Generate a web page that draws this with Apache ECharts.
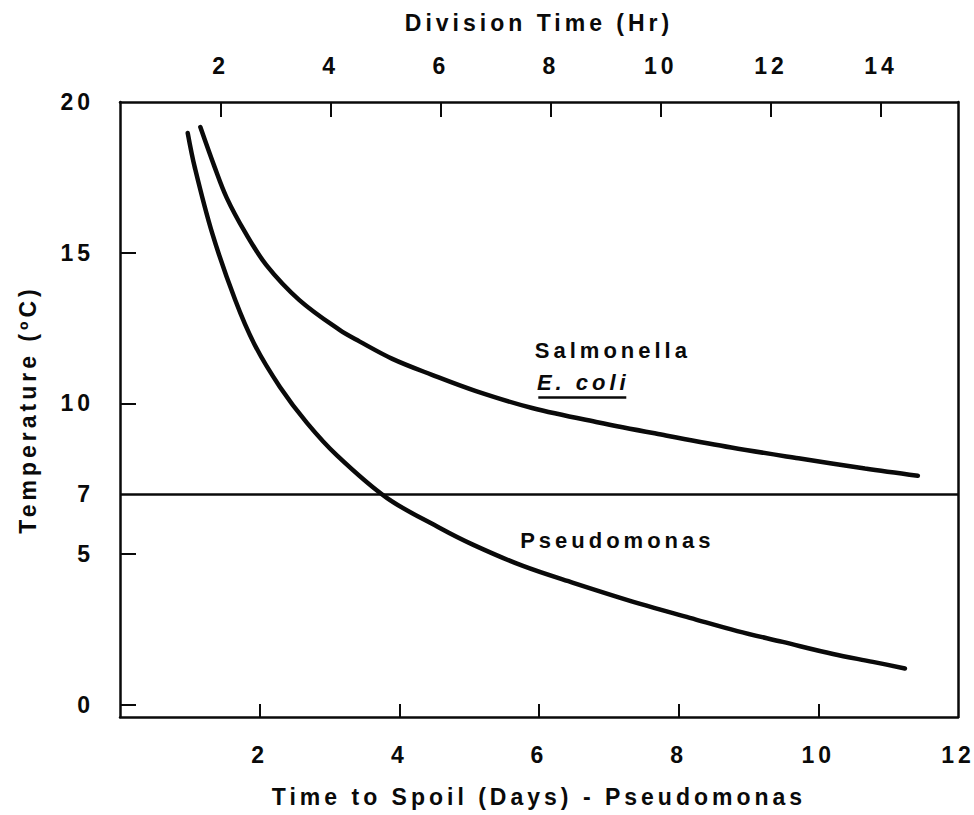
<!DOCTYPE html>
<html>
<head>
<meta charset="utf-8">
<script src="https://cdn.jsdelivr.net/npm/echarts@6/dist/echarts.min.js"></script>
<style>
  html, body { margin: 0; padding: 0; background: #fff; }
  #chart { width: 974px; height: 815px; }
  #chart text { letter-spacing: 4px; }
</style>
</head>
<body>
<div id="chart"></div>
<script>
// ---- data ----
// Pseudomonas: time to spoil (days, bottom axis) vs temperature (°C)
const pseudoDays = [0.97, 1.07, 1.32, 1.65, 1.93, 2.29, 2.68, 3.11, 3.82, 4.58, 5.06, 5.77, 6.49, 7.45, 8.16, 8.84, 9.49, 10.21, 10.78, 11.24];
const pseudoTemp = [18.97, 17.84, 15.65, 13.43, 11.94, 10.55, 9.35, 8.27, 6.87, 5.87, 5.31, 4.61, 4.05, 3.35, 2.89, 2.45, 2.09, 1.69, 1.43, 1.21];
// Salmonella / E. coli: division time (hours, top axis) vs temperature (°C)
const salmHours = [1.63, 1.89, 2.11, 2.44, 2.83, 3.43, 4.16, 4.52, 5.12, 5.84, 6.64, 7.66, 8.87, 10.09, 11.28, 12.50, 13.71, 14.67];
const salmTemp = [19.17, 17.84, 16.82, 15.69, 14.59, 13.43, 12.44, 12.06, 11.48, 10.95, 10.41, 9.85, 9.37, 8.94, 8.54, 8.18, 7.84, 7.60];
// reference line
const refTemp = 7;
// tick labels
const dayTicks = [2, 4, 6, 8, 10];
const dayLabels = [2, 4, 6, 8, 10, 12];
const hourTicks = [2, 4, 6, 8, 10, 12, 14];
const tempTicks = [0, 5, 10, 15];
const tempLabels = [0, 5, 7, 10, 15, 20];
// axis titles
const xBottomName = 'Time to Spoil (Days) - Pseudomonas';
const xTopName = 'Division Time (Hr)';
const yName = 'Temperature (ºC)';
// annotations (days, °C)
const annoNames = ['Salmonella', 'E. coli', 'Pseudomonas'];
const annoDays = [5.94, 5.97, 5.73];
const annoTemp = [11.77, 10.71, 5.47];
const underlineDays = [5.99, 7.25];
const underlineTemp = 10.22;

// ---- chart ----
const FONT = '"Liberation Sans", Arial, sans-serif';
const INK = '#0a0a0a';
const txt = { fontFamily: FONT, fontWeight: 'bold', fontSize: 23, color: INK };

const chart = echarts.init(document.getElementById('chart'), null, { renderer: 'svg' });

const zip = (a, b) => a.map((v, i) => [v, b[i]]);

chart.setOption({
  animation: false,
  backgroundColor: '#fff',
  grid: { left: 120, right: 16, top: 102, bottom: 98, outerBoundsMode: 'none', containLabel: false },
  xAxis: [
    {
      type: 'value', position: 'bottom', min: 0, max: 12,
      name: xBottomName, nameLocation: 'middle', nameGap: 68,
      nameTextStyle: Object.assign({}, txt),
      axisLine: { show: true, onZero: false, lineStyle: { color: INK, width: 2.5 } },
      axisTick: { show: true, inside: true, length: 13, customValues: dayTicks, lineStyle: { color: INK, width: 2 } },
      axisLabel: Object.assign({ show: true, margin: 26, customValues: dayLabels }, txt),
      splitLine: { show: false }
    },
    {
      type: 'value', position: 'top', min: 0.17, max: 15.4,
      name: xTopName, nameLocation: 'middle', nameGap: 68,
      nameTextStyle: Object.assign({}, txt),
      axisLine: { show: true, onZero: false, lineStyle: { color: INK, width: 2.5 } },
      axisTick: { show: true, inside: true, length: 15, customValues: hourTicks, lineStyle: { color: INK, width: 2 } },
      axisLabel: Object.assign({ show: true, margin: 25, customValues: hourTicks }, txt),
      splitLine: { show: false }
    }
  ],
  yAxis: [
    {
      type: 'value', position: 'left', min: -0.4, max: 20,
      name: yName, nameLocation: 'middle', nameGap: 81,
      nameTextStyle: Object.assign({}, txt),
      axisLine: { show: true, onZero: false, lineStyle: { color: INK, width: 2.5 } },
      axisTick: { show: true, inside: true, length: 16, customValues: tempTicks, lineStyle: { color: INK, width: 2 } },
      axisLabel: Object.assign({ show: true, margin: 26, customValues: tempLabels }, txt),
      splitLine: { show: false }
    },
    {
      type: 'value', position: 'right', min: -0.4, max: 20,
      axisLine: { show: true, onZero: false, lineStyle: { color: INK, width: 2.5 } },
      axisTick: { show: false }, axisLabel: { show: false }, splitLine: { show: false }
    }
  ],
  series: [
    {
      name: 'Pseudomonas', type: 'line', xAxisIndex: 0, yAxisIndex: 0,
      data: zip(pseudoDays, pseudoTemp), smooth: 0.35, showSymbol: false, symbol: 'none',
      lineStyle: { color: INK, width: 4.5, cap: 'round' }, silent: true,
      markLine: {
        silent: true, symbol: 'none', label: { show: false },
        lineStyle: { color: INK, width: 2.5, type: 'solid' },
        data: [{ yAxis: refTemp }]
      }
    },
    {
      name: 'Salmonella / E. coli', type: 'line', xAxisIndex: 1, yAxisIndex: 0,
      data: zip(salmHours, salmTemp), smooth: 0.35, showSymbol: false, symbol: 'none',
      lineStyle: { color: INK, width: 4.5, cap: 'round' }, silent: true
    },
    {
      name: 'labels', type: 'scatter', xAxisIndex: 0, yAxisIndex: 0,
      symbolSize: 0, silent: true,
      itemStyle: { opacity: 1, color: INK },
      data: annoNames.map((n, i) => ({
        name: n, value: [annoDays[i], annoTemp[i]],
        label: n === 'E. coli' ? { fontStyle: 'italic' } : {}
      })),
      label: Object.assign({ show: true, formatter: '{b}', position: 'right', distance: 0, align: 'left', verticalAlign: 'middle', opacity: 1 }, txt, { fontSize: 22 }),
      markLine: {
        silent: true, symbol: 'none', label: { show: false },
        lineStyle: { color: INK, width: 2.5, type: 'solid', opacity: 1 },
        data: [[{ coord: [underlineDays[0], underlineTemp] }, { coord: [underlineDays[1], underlineTemp] }]]
      }
    }
  ]
});
</script>
</body>
</html>
